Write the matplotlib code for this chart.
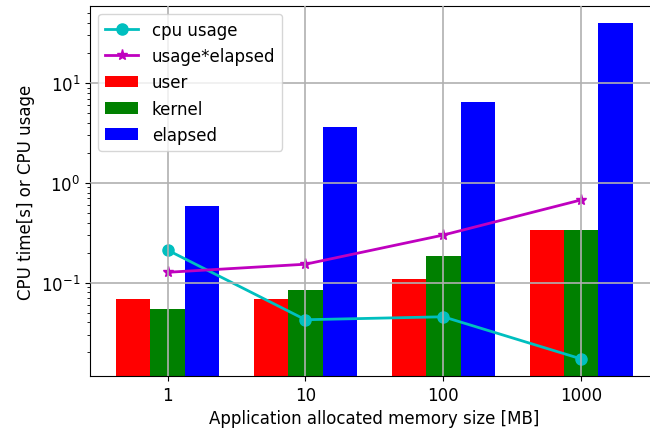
import numpy as np
import matplotlib.pyplot as plt

# memory sizes [MB] and measured times [s]
sizes = ['1', '10', '100', '1000']
user = [0.069, 0.069, 0.11, 0.34]
kernel = [0.055, 0.085, 0.187, 0.34]
elapsed = [0.587, 3.65, 6.5, 40.0]
cpu_usage = [0.212, 0.0425, 0.0455, 0.0172]
usage_elapsed = [0.127, 0.153, 0.30, 0.675]

x = np.arange(len(sizes))
w = 0.25

fig = plt.figure(figsize=(6.5, 4.35), dpi=100)
ax = fig.add_axes([0.1385, 0.1333, 0.875, 0.851])

ax.plot(x, cpu_usage, 'co-', lw=2, ms=8, label='cpu usage')
ax.plot(x, usage_elapsed, 'm*-', lw=2, ms=8, label='usage*elapsed')
ax.bar(x - w, user, w, color='r', label='user')
ax.bar(x, kernel, w, color='g', label='kernel')
ax.bar(x + w, elapsed, w, color='b', label='elapsed')

ax.set_yscale('log')
ax.set_ylim(0.0116, 59.4)
ax.set_xlim(-0.5625, 3.5625)
ax.set_xticks(x)
ax.set_xticklabels(sizes)
ax.tick_params(labelsize=12)
ax.set_xlabel('Application allocated memory size [MB]', fontsize=12)
ax.set_ylabel('CPU time[s] or CPU usage', fontsize=12)
ax.grid(True, which='major', color='#b0b0b0', lw=1.2)
ax.set_axisbelow(False)
ax.legend(loc='upper left', fontsize=12)

fig.savefig('out.png', dpi=100)
